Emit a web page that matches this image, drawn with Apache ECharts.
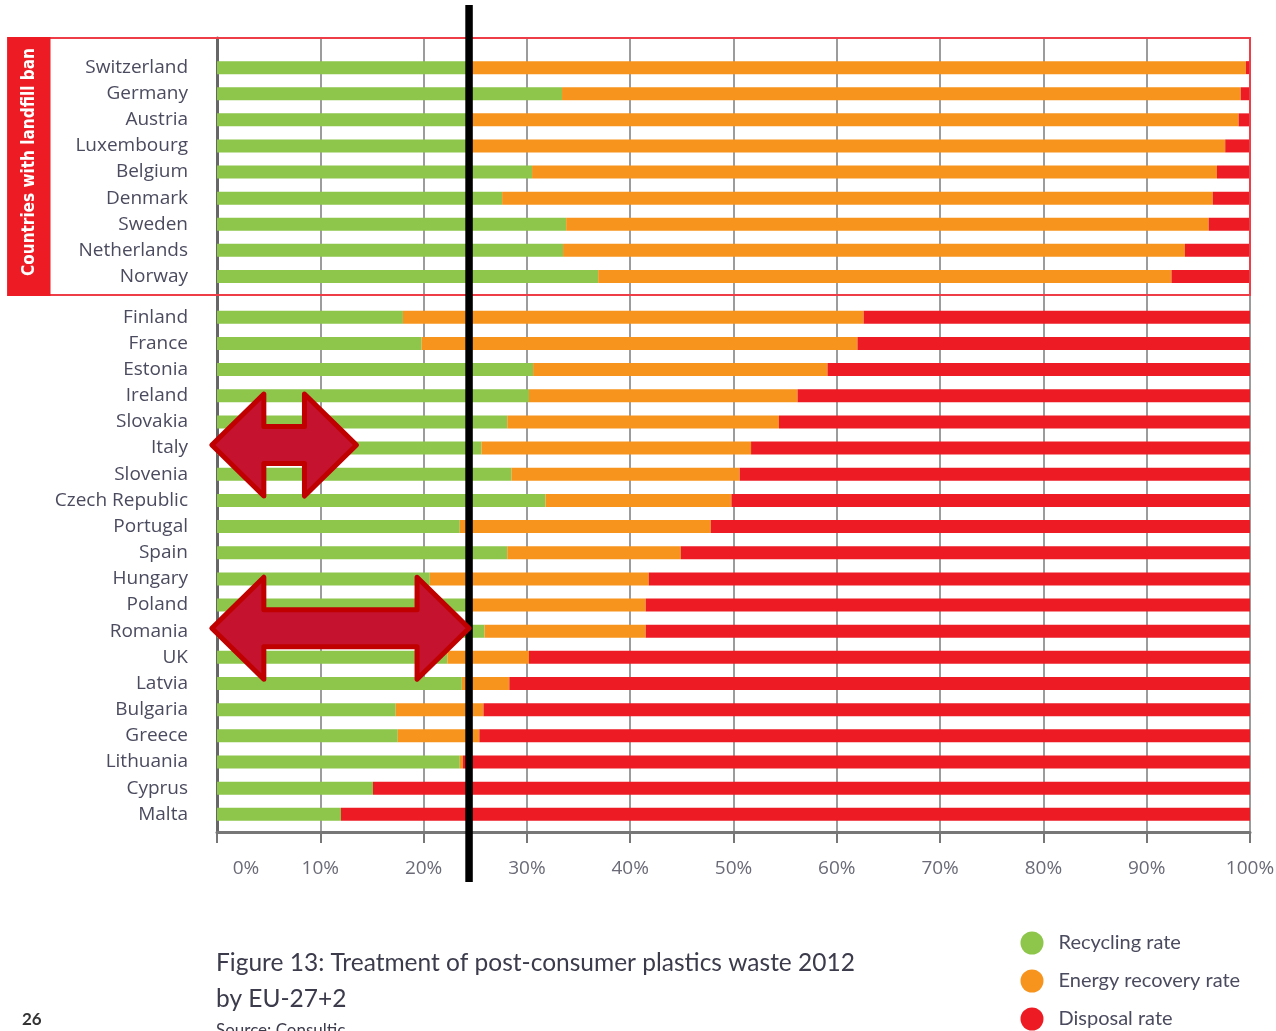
<!DOCTYPE html>
<html>
<head>
<meta charset="utf-8">
<title>Treatment of post-consumer plastics waste 2012</title>
<script src="https://cdn.jsdelivr.net/npm/echarts@6/dist/echarts.min.js"></script>
<style>
  html, body { margin: 0; padding: 0; background: #ffffff; }
  #chart { width: 1276px; height: 1031px; }
</style>
</head>
<body>
<div id="chart"></div>
<script>
// Countries with a landfill ban (upper block) and the remaining EU-27+2 countries
const banCountries = ['Switzerland', 'Germany', 'Austria', 'Luxembourg', 'Belgium',
  'Denmark', 'Sweden', 'Netherlands', 'Norway'];
const otherCountries = ['Finland', 'France', 'Estonia', 'Ireland', 'Slovakia', 'Italy',
  'Slovenia', 'Czech Republic', 'Portugal', 'Spain', 'Hungary', 'Poland', 'Romania',
  'UK', 'Latvia', 'Bulgaria', 'Greece', 'Lithuania', 'Cyprus', 'Malta'];

// Shares of post-consumer plastics waste, in percent
const banRecycling = [24.5, 33.4, 24.5, 24.5, 30.5, 27.6, 33.8, 33.5, 36.9];
const banEnergy    = [75.1, 65.7, 74.4, 73.1, 66.3, 68.8, 62.2, 60.2, 55.5];
const banDisposal  = [0.4, 0.9, 1.1, 2.4, 3.2, 3.6, 4.0, 6.3, 7.6];

const otherRecycling = [18.0, 19.8, 30.6, 30.2, 28.1, 25.6, 28.5, 31.8, 23.5, 28.1,
  20.6, 24.3, 25.9, 22.3, 23.7, 17.3, 17.5, 23.5, 15.1, 12.0];
const otherEnergy    = [44.6, 42.2, 28.5, 26.0, 26.3, 26.1, 22.1, 18.0, 24.3, 16.8,
  21.2, 17.2, 15.6, 7.9, 4.6, 8.5, 7.9, 0.3, 0, 0];
const otherDisposal  = [37.4, 38.0, 40.9, 43.8, 45.6, 48.3, 49.4, 50.2, 52.2, 55.1,
  58.2, 58.5, 58.5, 69.8, 71.7, 74.2, 74.6, 76.2, 84.9, 88.0];

const seriesNames = ['Recycling rate', 'Energy recovery rate', 'Disposal rate'];
const tickValues = [0, 10, 20, 30, 40, 50, 60, 70, 80, 90, 100];

// Annotations: reference line and the two double arrows (values in percent)
const referencePct = 24.4;
const arrows = [
  { row: 'Italy',   from: -0.5, to: 13.5 },
  { row: 'Romania', from: -0.5, to: 24.4 }
];

const GREEN = '#8dc64b';
const ORANGE = '#f7941e';
const RED = '#ed1c24';
const LABEL_COLOR = '#4b4b5f';
const GRID_COLOR = '#7b7b7b';
const LABEL_FONT = '"Open Sans", "Liberation Sans", sans-serif';
const CAPTION_FONT = 'Lato, "Open Sans", sans-serif';

const chart = echarts.init(document.getElementById('chart'), null, { renderer: 'canvas' });

const plotLeft = 217;
const plotWidth = 1033;

function barSeries(name, data, axisIdx, stack, color) {
  return {
    name: name,
    type: 'bar',
    xAxisIndex: axisIdx,
    yAxisIndex: axisIdx,
    stack: stack,
    data: data,
    barWidth: 13,
    silent: true,
    itemStyle: { color: color },
    emphasis: { disabled: true }
  };
}

const categoryAxis = (gridIndex, data) => ({
  gridIndex: gridIndex,
  type: 'category',
  data: data,
  inverse: true,
  axisLine: { show: false },
  axisTick: { show: false },
  splitLine: { show: false },
  axisLabel: {
    margin: 29,
    fontSize: 19,
    fontFamily: LABEL_FONT,
    color: LABEL_COLOR
  }
});

const hiddenValueAxis = (gridIndex) => ({
  gridIndex: gridIndex,
  type: 'value',
  min: 0,
  max: 100,
  interval: 10,
  show: false
});

chart.setOption({
  animation: false,
  backgroundColor: '#ffffff',
  grid: [
    // frame grid carrying the shared percentage axis and gridlines
    { left: plotLeft, width: plotWidth, top: 38, height: 794, containLabel: false, outerBoundsMode: 'none' },
    { left: plotLeft, width: plotWidth, top: 54.6, height: 234.9, containLabel: false, outerBoundsMode: 'none' },
    { left: plotLeft, width: plotWidth, top: 304.2, height: 523.2, containLabel: false, outerBoundsMode: 'none' }
  ],
  xAxis: [
    {
      gridIndex: 0,
      type: 'value',
      min: 0,
      max: 100,
      interval: 10,
      position: 'bottom',
      axisLine: { show: true, onZero: false, lineStyle: { color: '#777777', width: 3 } },
      axisTick: { show: true, length: 11, lineStyle: { color: '#777777', width: 2 } },
      splitLine: { show: true, lineStyle: { color: GRID_COLOR, width: 1.5 } },
      axisLabel: {
        margin: 27,
        fontSize: 19,
        fontFamily: LABEL_FONT,
        color: '#6b6b78',
        customValues: tickValues,
        formatter: function (v) {
          return v === 0 ? '{z|0%}' : v + '%';
        },
        rich: {
          z: { padding: [0, 0, 0, 58], fontSize: 19, fontFamily: LABEL_FONT, color: '#6b6b78' }
        }
      }
    },
    hiddenValueAxis(1),
    hiddenValueAxis(2)
  ],
  yAxis: [
    {
      gridIndex: 0,
      type: 'value',
      min: 0,
      max: 1,
      axisLine: { show: true, onZero: false, lineStyle: { color: '#666666', width: 3 } },
      axisTick: { show: false },
      axisLabel: { show: false },
      splitLine: { show: false }
    },
    categoryAxis(1, banCountries),
    categoryAxis(2, otherCountries)
  ],
  legend: {
    orient: 'vertical',
    left: 1020.5,
    top: 931.5,
    padding: 0,
    itemWidth: 23,
    itemHeight: 23,
    itemGap: 15,
    icon: 'circle',
    selectedMode: false,
    data: seriesNames,
    textStyle: {
      fontSize: 20,
      lineHeight: 22,
      fontFamily: CAPTION_FONT,
      color: LABEL_COLOR,
      padding: [0, 0, 0, 10]
    }
  },
  title: {
    text: 'Figure 13: Treatment of post-consumer plastics waste 2012\nby EU-27+2',
    subtext: 'Source: Consultic',
    left: 216,
    top: 945,
    itemGap: 5,
    padding: 0,
    textStyle: {
      fontSize: 24.5,
      fontWeight: 'normal',
      lineHeight: 36,
      fontFamily: CAPTION_FONT,
      color: '#3b3b4c'
    },
    subtextStyle: {
      fontSize: 17,
      fontFamily: CAPTION_FONT,
      color: '#3b3b4c'
    }
  },
  series: [
    barSeries(seriesNames[0], banRecycling, 1, 'ban', GREEN),
    barSeries(seriesNames[1], banEnergy, 1, 'ban', ORANGE),
    barSeries(seriesNames[2], banDisposal, 1, 'ban', RED),
    barSeries(seriesNames[0], otherRecycling, 2, 'other', GREEN),
    barSeries(seriesNames[1], otherEnergy, 2, 'other', ORANGE),
    barSeries(seriesNames[2], otherDisposal, 2, 'other', RED)
  ]
});

// Overlays placed through the axes' own scales
const toPx = (grid, value, row) => chart.convertToPixel({ gridIndex: grid }, [value, row]);
const rightEdge = toPx(1, 100, banCountries[0])[0];
const refX = toPx(2, referencePct, otherCountries[0])[0];

function doubleArrow(spec) {
  const a = toPx(2, spec.from, spec.row);
  const b = toPx(2, spec.to, spec.row);
  const yc = a[1] - 3;
  const head = 52, halfHead = 51, halfShaft = 18.5;
  const xl = a[0], xr = b[0];
  return {
    type: 'polygon',
    z: 30,
    silent: true,
    shape: {
      points: [
        [xl, yc], [xl + head, yc - halfHead], [xl + head, yc - halfShaft],
        [xr - head, yc - halfShaft], [xr - head, yc - halfHead], [xr, yc],
        [xr - head, yc + halfHead], [xr - head, yc + halfShaft],
        [xl + head, yc + halfShaft], [xl + head, yc + halfHead]
      ]
    },
    style: { fill: '#c4122f', stroke: '#c00000', lineWidth: 5, lineJoin: 'round' }
  };
}

chart.setOption({
  graphic: [
    // frame around the landfill-ban block
    {
      type: 'rect', z: 5, silent: true,
      shape: { x: 8, y: 38, width: rightEdge - 8, height: 257 },
      style: { fill: null, stroke: '#ef3d47', lineWidth: 2 }
    },
    {
      type: 'rect', z: 6, silent: true,
      shape: { x: 7.5, y: 37, width: 43, height: 259 },
      style: { fill: RED }
    },
    {
      type: 'text', z: 7, silent: true,
      x: 30, y: 162, rotation: Math.PI / 2,
      style: {
        text: 'Countries with landfill ban',
        fill: '#ffffff',
        font: 'bold 17px "DejaVu Sans Condensed", "Liberation Sans Narrow", "Open Sans", sans-serif',
        align: 'center',
        verticalAlign: 'middle'
      }
    },
    // reference line
    {
      type: 'line', z: 20, silent: true,
      shape: { x1: refX, y1: 5, x2: refX, y2: 882 },
      style: { stroke: '#000000', lineWidth: 7.5 }
    },
    doubleArrow(arrows[0]),
    doubleArrow(arrows[1]),
    // page number
    {
      type: 'text', z: 7, silent: true,
      x: 22, y: 1011,
      style: { text: '26', fill: '#333333', font: 'bold 17px Lato, sans-serif' }
    }
  ]
});
</script>
</body>
</html>
